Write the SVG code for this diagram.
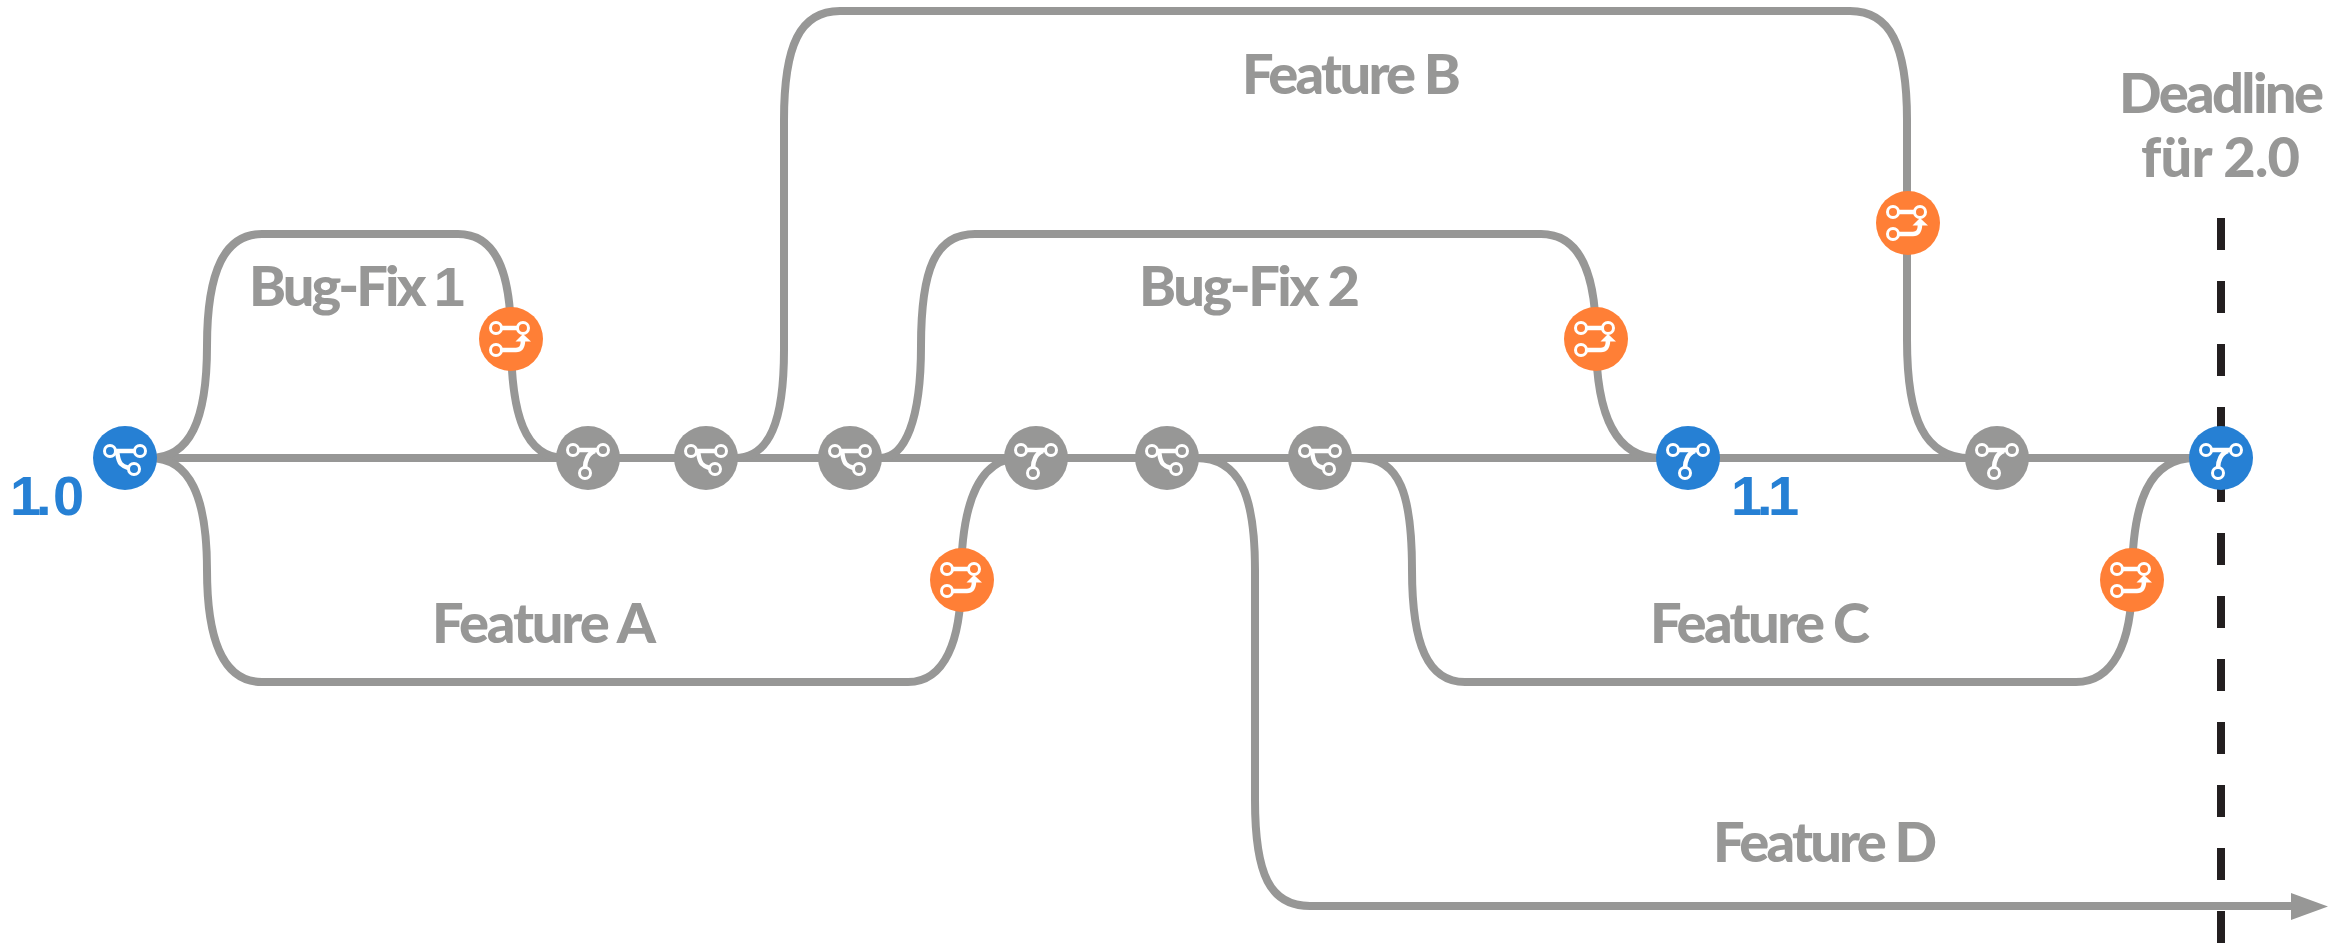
<svg xmlns="http://www.w3.org/2000/svg" width="2330" height="943" viewBox="0 0 2330 943">
<style>
.bg{fill:#fff}
.c{fill:none;stroke:#979796;stroke-width:8}
.dl{fill:none;stroke:#231f20;stroke-width:8;stroke-dasharray:32 31}
.t{font-family:"Lato","Liberation Sans",sans-serif;font-weight:900;font-size:56px;fill:#979796}
.d{font-family:"Liberation Sans",sans-serif;font-weight:700}
.b{fill:#2680d4}
.n{fill:#979796}
.o{fill:#ff7f36}
.tb{fill:#2680d4}
.i{fill:none;stroke:#fff;stroke-width:3}
.il{fill:none;stroke:#fff;stroke-width:4.500}
</style>
<defs>
<g id="fork">
<circle class="i" cx="-15" cy="-7" r="5.500"/><circle class="i" cx="15" cy="-7" r="5.500"/><circle class="i" cx="9" cy="11" r="5.500"/>
<path class="il" d="M-10-7H10M-8-7C-7-1-7 3-4 6C-1 9 1 9 4 10"/>
</g>
<g id="merge">
<circle class="i" cx="-15" cy="-8" r="5.500"/><circle class="i" cx="15" cy="-8" r="5.500"/><circle class="i" cx="-3" cy="15" r="5.500"/>
<path class="il" d="M-10-8H10M7-7C0-5-3 3-3 10"/>
</g>
<g id="pr">
<circle class="i" cx="-15" cy="-11" r="5.500"/><circle class="i" cx="12" cy="-11" r="5.500"/><circle class="i" cx="-15" cy="11" r="5.500"/>
<path class="il" d="M-10-11H7M-10 11H5C10 11 12 8 12 1"/>
<path d="M12-5L20 2.500H4.500Z" fill="#fff"/>
</g>
</defs>
<rect class="bg" width="2330" height="943"/>
<path id="deadline" class="dl" d="M2221 218V943"/>
<g id="connectors">
<path class="c" d="M125 458H2221"/>
<path class="c" d="M150 458C190 458 207 420 207 346C207 270 225 234 262 234H458C495 234 511 270 511 339C511 415 525 458 565 458"/>
<path class="c" d="M150 458C190 458 207 497 207 570C207 645 225 682 262 682H908C945 682 961 640 961 581C961 500 980 458 1020 458"/>
<path class="c" d="M735 458C770 458 784 420 784 350V120C784 45 800 11 840 11H1850C1890 11 1907 45 1907 120V340C1907 420 1925 458 1970 458"/>
<path class="c" d="M880 458C905 458 921 420 921 346C921 270 935 234 975 234H1541C1578 234 1596 270 1596 339C1596 415 1615 458 1660 458"/>
<path class="c" d="M1196 458C1240 458 1255 495 1255 570V800C1255 875 1270 906 1310 906H2292"/>
<path d="M2291 893L2328 906.500L2291 920Z" fill="#979796"/>
<path class="c" d="M1360 458C1400 458 1412 495 1412 570C1412 645 1428 682 1465 682H2076C2112 682 2132 645 2132 580C2132 500 2150 458 2195 458"/>
</g>
<g id="n10"><circle class="b" cx="125" cy="458" r="32"/><use href="#fork" x="125" y="458"/></g>
<g id="m1"><circle class="n" cx="588" cy="458" r="32"/><use href="#merge" x="588" y="458"/></g>
<g id="f1"><circle class="n" cx="706" cy="458" r="32"/><use href="#fork" x="706" y="458"/></g>
<g id="f2"><circle class="n" cx="850" cy="458" r="32"/><use href="#fork" x="850" y="458"/></g>
<g id="m2"><circle class="n" cx="1036" cy="458" r="32"/><use href="#merge" x="1036" y="458"/></g>
<g id="f3"><circle class="n" cx="1167" cy="458" r="32"/><use href="#fork" x="1167" y="458"/></g>
<g id="f4"><circle class="n" cx="1320" cy="458" r="32"/><use href="#fork" x="1320" y="458"/></g>
<g id="n11"><circle class="b" cx="1688" cy="458" r="32"/><use href="#merge" x="1688" y="458"/></g>
<g id="m3"><circle class="n" cx="1997" cy="458" r="32"/><use href="#merge" x="1997" y="458"/></g>
<g id="n20"><circle class="b" cx="2221" cy="458" r="32"/><use href="#merge" x="2221" y="458"/></g>
<g id="pr1"><circle class="o" cx="511" cy="339" r="32"/><use href="#pr" x="511" y="339"/></g>
<g id="pr2"><circle class="o" cx="962" cy="580" r="32"/><use href="#pr" x="962" y="580"/></g>
<g id="pr3"><circle class="o" cx="1596" cy="339" r="32"/><use href="#pr" x="1596" y="339"/></g>
<g id="pr4"><circle class="o" cx="1908" cy="223" r="32"/><use href="#pr" x="1908" y="223"/></g>
<g id="pr5"><circle class="o" cx="2132" cy="580" r="32"/><use href="#pr" x="2132" y="580"/></g>
<g id="labels">
<text class="t" x="1242" y="94" textLength="219">Feature B</text>
<text class="t" x="249" y="306" textLength="216">Bug-Fix <tspan class="d">1</tspan></text>
<text class="t" x="1139" y="306" textLength="221">Bug-Fix 2</text>
<text class="t" x="432" y="643" textLength="224">Feature A</text>
<text class="t" x="1650" y="643" textLength="220">Feature C</text>
<text class="t" x="1713" y="862" textLength="224">Feature D</text>
<text class="t tb d" x="10 36 53" y="515">1.0</text>
<text class="t tb d" x="1731 1757 1768" y="515">1.1</text>
<text class="t" x="2119" y="113" textLength="205">Deadline</text>
<text class="t" x="2141" y="177" textLength="159">für 2.0</text>
</g>
</svg>
